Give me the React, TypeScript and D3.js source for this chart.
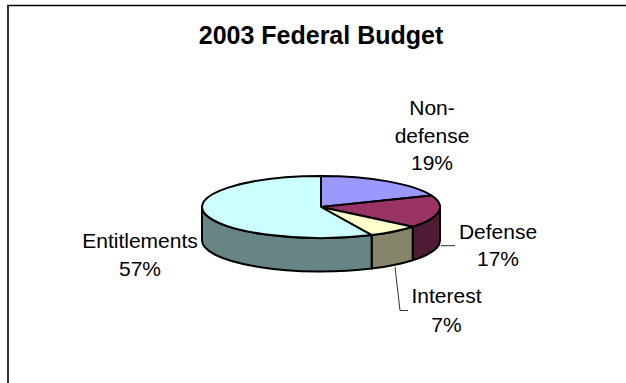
import React from "react";
import * as d3 from "d3";

const categories = ["Non-defense", "Defense", "Interest", "Entitlements"];
const shares = [19, 17, 7, 57];
const topColors = ["#9999ff", "#993366", "#ffffcc", "#ccffff"];
const sideColors = ["#6b6bb3", "#4f1c35", "#85856a", "#678585"];

const W = 626;
const H = 383;
const cx = 321;
const cy = 207;
const rx = 119;
const ry = 31;
const depth = 33.5;

const slices = d3.pie<number>().sort(null).startAngle(0).endAngle(2 * Math.PI)(shares);

// Angles run clockwise from 12 o'clock on the tilted disc.
const px = d3.scaleLinear().domain([-1, 1]).range([cx - rx, cx + rx]);
const py = d3.scaleLinear().domain([-1, 1]).range([cy - ry, cy + ry]);
const rimX = (a: number) => px(Math.sin(a));
const rimY = (a: number) => py(-Math.cos(a));

function topPath(a0: number, a1: number) {
  const large = a1 - a0 > Math.PI ? 1 : 0;
  return `M${cx},${cy}L${rimX(a0)},${rimY(a0)}A${rx},${ry} 0 ${large} 1 ${rimX(a1)},${rimY(a1)}Z`;
}

// Outer wall of a slice, limited to the front half of the ellipse.
function wallPath(a0: number, a1: number) {
  const s = Math.max(a0, Math.PI / 2);
  const e = Math.min(a1, (3 * Math.PI) / 2);
  if (e <= s) return null;
  return (
    `M${rimX(s)},${rimY(s)}A${rx},${ry} 0 0 1 ${rimX(e)},${rimY(e)}` +
    `L${rimX(e)},${rimY(e) + depth}A${rx},${ry} 0 0 0 ${rimX(s)},${rimY(s) + depth}Z`
  );
}

const labelFont = "'Liberation Sans', Arial, sans-serif";

function Label({ x, lines, y, gap = 27.5 }: { x: number; y: number; lines: string[]; gap?: number }) {
  return (
    <text x={x} y={y} textAnchor="middle" fontFamily={labelFont} fontSize={21} fill="#000">
      {lines.map((t, i) => (
        <tspan key={t} x={x} dy={i === 0 ? 0 : gap}>
          {t}
        </tspan>
      ))}
    </text>
  );
}

export default function App() {
  return (
    <svg
      width={W}
      height={H}
      viewBox={`0 0 ${W} ${H}`}
      style={{ position: "fixed", left: 0, top: 0, background: "#fff" }}
    >
      <path d={`M8,${H}V5.500H${W}`} fill="none" stroke="#000" strokeWidth={1.6} />
      <text
        x={321}
        y={44}
        textAnchor="middle"
        fontFamily={labelFont}
        fontWeight={700}
        fontSize={25}
        fill="#000"
      >
        2003 Federal Budget
      </text>

      {slices.map((s, i) => {
        const d = wallPath(s.startAngle, s.endAngle);
        return d ? (
          <path key={categories[i]} d={d} fill={sideColors[i]} stroke="#000" strokeWidth={2} strokeLinejoin="round" />
        ) : null;
      })}
      {slices.map((s, i) => (
        <path
          key={categories[i]}
          d={topPath(s.startAngle, s.endAngle)}
          fill={topColors[i]}
          stroke="#000"
          strokeWidth={2}
          strokeLinejoin="round"
        />
      ))}

      <path d="M441,245.700H455" fill="none" stroke="#333" strokeWidth={1} />
      <path d="M395,267L400,310.500H408" fill="none" stroke="#333" strokeWidth={1} />

      <Label x={432} y={115} lines={["Non-", "defense", `${shares[0]}%`]} />
      <Label x={498} y={238.500} lines={[categories[1], `${shares[1]}%`]} />
      <Label x={446.500} y={303} gap={29} lines={[categories[2], `${shares[2]}%`]} />
      <Label x={140} y={247.500} gap={28.500} lines={[categories[3], `${shares[3]}%`]} />
    </svg>
  );
}
